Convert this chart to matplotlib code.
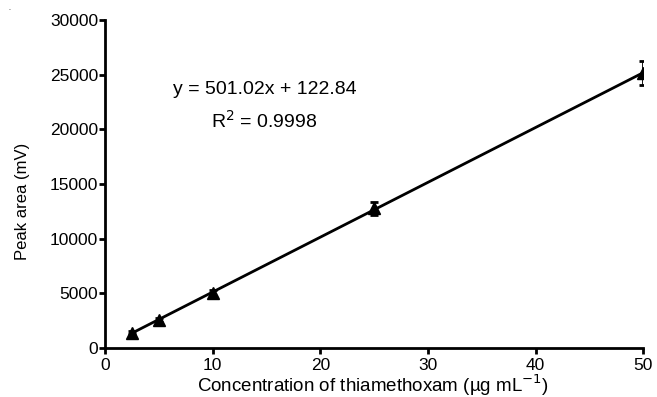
import numpy as np
import matplotlib.pyplot as plt

plt.rcParams['font.family'] = ['Liberation Sans', 'DejaVu Sans']

conc = [2.5, 5, 10, 25, 50]
area = [1400, 2600, 5050, 12800, 25150]
err = [150, 200, 250, 600, 1100]
slope = 501.02
intercept = 122.84

fig = plt.figure(figsize=(6.57, 3.97), dpi=100)
ax = fig.add_axes([0.160, 0.123, 0.819, 0.827])

xfit = np.array([conc[0], conc[-1]])
ax.plot(xfit, slope * xfit + intercept, c='k', lw=2)
ax.errorbar(conc, area, yerr=err, fmt='^', c='k', ms=8, capsize=3,
            elinewidth=2, capthick=2)

ax.set_xlim(0, 50)
ax.set_ylim(0, 30000)
ax.set_xticks([0, 10, 20, 30, 40, 50])
ax.set_yticks(range(0, 30001, 5000))
for s in ['top', 'right']:
    ax.spines[s].set_visible(False)
for s in ['left', 'bottom']:
    ax.spines[s].set_linewidth(2)
ax.tick_params(width=2, length=4, labelsize=12.5)
ax.tick_params(axis='x', pad=3)
ax.tick_params(axis='y', pad=1)

ax.set_xlabel("Concentration of thiamethoxam (\u00b5g mL$^{\u22121}$)", fontsize=13.5, va='baseline')
ax.xaxis.set_label_coords(0.497, -0.133)
ax.set_ylabel("Peak area (mV)", fontsize=12, va='center')
ax.yaxis.set_label_coords(-0.154, 0.448)

ax.text(0.296, 0.787, "y = 501.02x + 122.84", transform=ax.transAxes,
        ha='center', va='center', fontsize=14)
ax.text(0.296, 0.692, "R$^{2}$ = 0.9998", transform=ax.transAxes,
        ha='center', va='center', fontsize=14)
fig.text(0.013, 0.975, ".", fontsize=5)

fig.savefig("out.png")
